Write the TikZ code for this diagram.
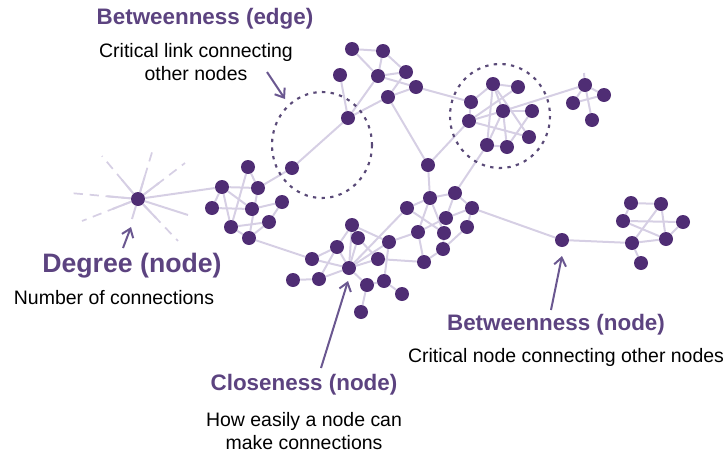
\documentclass[tikz,border=0pt]{standalone}
\usepackage{fontspec}
\setmainfont{Liberation Sans}
\usetikzlibrary{arrows.meta,backgrounds,calc}
\definecolor{vertfill}{HTML}{4F2D74}
\definecolor{linklav}{HTML}{D6CFE4}
\definecolor{headpurple}{HTML}{5C4380}
\definecolor{arrowpurple}{HTML}{6A5790}
\definecolor{ringpurple}{HTML}{5A4A78}
\tikzset{
  vert/.style={circle, fill=vertfill, inner sep=0pt, minimum size=10.5pt},
  link/.style={draw=linklav, line width=1.5pt},
  raydash/.style={draw=linklav, line width=1.3pt, dash pattern=on 7pt off 5pt},
  ring/.style={draw=ringpurple, line width=1.6pt, dash pattern=on 2.5pt off 4pt},
  pointer/.style={draw=arrowpurple, line width=1.5pt, -{Straight Barb[length=6pt,width=9pt,line width=1.5pt]}},
  headline/.style={font=\bfseries\fontsize{16.8}{20}\selectfont, text=headpurple, inner sep=0pt},
  bighead/.style={headline, font=\bfseries\fontsize{20}{24}\selectfont},
  note/.style={font=\fontsize{14.6}{17.3}\selectfont, align=center, text=black, inner sep=0pt}
}
\begin{document}
\begin{tikzpicture}[x=0.75pt,y=-0.75pt]
\useasboundingbox (0,0) rectangle (726,454);

% ---- vertices ----
% degree hub
\node[vert] (s) at (138,199) {};
% left cluster
\foreach \n/\x/\y in {k1/248/167,k2/222/187,k3/258/188,k4/212/208,k5/282/202,
  k6/252/209,k7/269/222,k8/231/227,k9/249/238,e1/292/168}
  \node[vert] (\n) at (\x,\y) {};
% top cluster
\foreach \n/\x/\y in {a1/352/49,a2/383/51,a3/340/75,a4/378/76,a5/406/72,
  a6/416/87,a7/388/97,a8/348/118}
  \node[vert] (\n) at (\x,\y) {};
% ringed cluster
\foreach \n/\x/\y in {b1/471/102,b2/493/84,b3/518/87,b4/469/121,b5/503/111,
  b6/532/111,b7/529/137,b8/487/145,b9/507/147}
  \node[vert] (\n) at (\x,\y) {};
% small top-right cluster
\foreach \n/\x/\y in {d1/585/85,d2/604/95,d3/573/103,d4/592/120}
  \node[vert] (\n) at (\x,\y) {};
% central clusters
\foreach \n/\x/\y in {c1/428/165,m1/430/198,m2/455/193,m3/472/208,m4/407/208,
  m5/446/218,m6/418/232,m7/444/233,m8/467/227,m9/443/249,m10/424/262}
  \node[vert] (\n) at (\x,\y) {};
\foreach \n/\x/\y in {l1/352/225,l2/358/238,l3/389/242,l4/337/247,l5/312/259,
  l6/378/259,l7/349/268,l8/293/280,l9/319/279,l10/367/285,l11/384/281,
  l12/402/294,l13/361/312}
  \node[vert] (\n) at (\x,\y) {};
% bridge node and right cluster
\node[vert] (bn) at (562,240) {};
\foreach \n/\x/\y in {r1/631/203,r2/661/204,r3/623/221,r4/683/222,
  r5/632/243,r6/666/239,r7/641/263}
  \node[vert] (\n) at (\x,\y) {};

% ---- star rays around the degree hub ----
\coordinate (ray1) at (70,193);
\coordinate (ray2) at (102,156);
\coordinate (ray3) at (153,149);
\coordinate (ray4) at (185,163);
\coordinate (ray5) at (188,215);
\coordinate (ray6) at (178,241);
\coordinate (ray7) at (132,219);
\coordinate (ray8) at (82,221);
\coordinate (stub) at (584,73);

% ---- rings ----
\draw[ring] (322,145) ellipse [x radius=50, y radius=53];
\draw[ring] (500,116) ellipse [x radius=50, y radius=52];

% ---- edges ----
\begin{scope}[on background layer]
  \foreach \e in {ray1,ray2,ray3,ray4,ray6,ray8}{
    \draw[raydash] (s) -- (\e);
    \draw[link] (s) -- ($(s)!0.45!(\e)$);
  }
  \draw[link] (s) -- (ray5);
  \draw[link] (s) -- (ray7);
  \foreach \u/\v in {s/k2,k2/k3,k2/k4,k2/k8,k2/k6,k1/k3,k1/k8,k3/e1,k3/k9,
    k4/k6,k6/k5,k8/k7,k8/k9,k9/k7,k5/k7,k9/l5,
    e1/a8,
    a1/a2,a1/a4,a2/a4,a2/a5,a3/a8,a4/a5,a4/a6,a4/a8,a5/a7,a6/a7,a7/a8,
    a7/c1,a6/b1,
    b1/b2,b2/b3,b1/b4,b2/b5,b2/b8,b2/b7,b3/b4,b4/b5,b4/b7,b5/b6,b5/b8,
    b5/b9,b6/b9,b8/b9,b5/d1,b4/c1,b8/m2,
    d1/d2,d1/d3,d2/d3,d1/d4,d1/stub,
    c1/m1,m4/m1,m1/m2,m2/m3,m1/m6,m1/m7,m2/m5,m5/m6,m5/m3,m4/m7,m3/m8,
    m8/m9,m7/m9,m6/m10,m10/m9,m3/bn,
    l1/l2,l1/l4,l1/l7,l1/l3,l2/l7,l2/l6,l4/l5,l4/l7,l4/l9,l5/l7,l8/l9,
    l9/l7,l7/l3,l7/l6,l7/l10,l7/m4,l3/m6,l3/l11,l6/m10,l10/l11,l11/l12,
    l10/l13,
    bn/r5,r1/r2,r3/r4,r3/r1,r3/r6,r2/r5,r2/r6,r4/r6,r5/r6,r5/r7}
    \draw[link] (\u) -- (\v);
\end{scope}

% ---- labels ----
\node[headline] (t1) at (205,19) {Betweenness (edge)};
\node[note] (n1) at (196,62) {Critical link connecting\\other nodes};
\node[bighead] (t2) at (132,266) {Degree (node)};
\node[note] (n2) at (114,298) {Number of connections};
\node[headline] (t3) at (304,385) {Closeness (node)};
\node[note] (n3) at (304,431) {How easily a node can\\make connections};
\node[headline] (t4) at (556,325) {Betweenness (node)};
\node[note] (n4) at (566,357) {Critical node connecting other nodes};

% ---- pointers ----
\coordinate (p1a) at (267,72);  \coordinate (p1b) at (285,99);
\coordinate (p2a) at (123,248); \coordinate (p2b) at (131,227);
\coordinate (p3a) at (321,368); \coordinate (p3b) at (348,281);
\coordinate (p4a) at (551,310); \coordinate (p4b) at (562,256);
\draw[pointer] (p1a) -- (p1b);
\draw[pointer] (p2a) -- (p2b);
\draw[pointer] (p3a) -- (p3b);
\draw[pointer] (p4a) -- (p4b);
\end{tikzpicture}
\end{document}
